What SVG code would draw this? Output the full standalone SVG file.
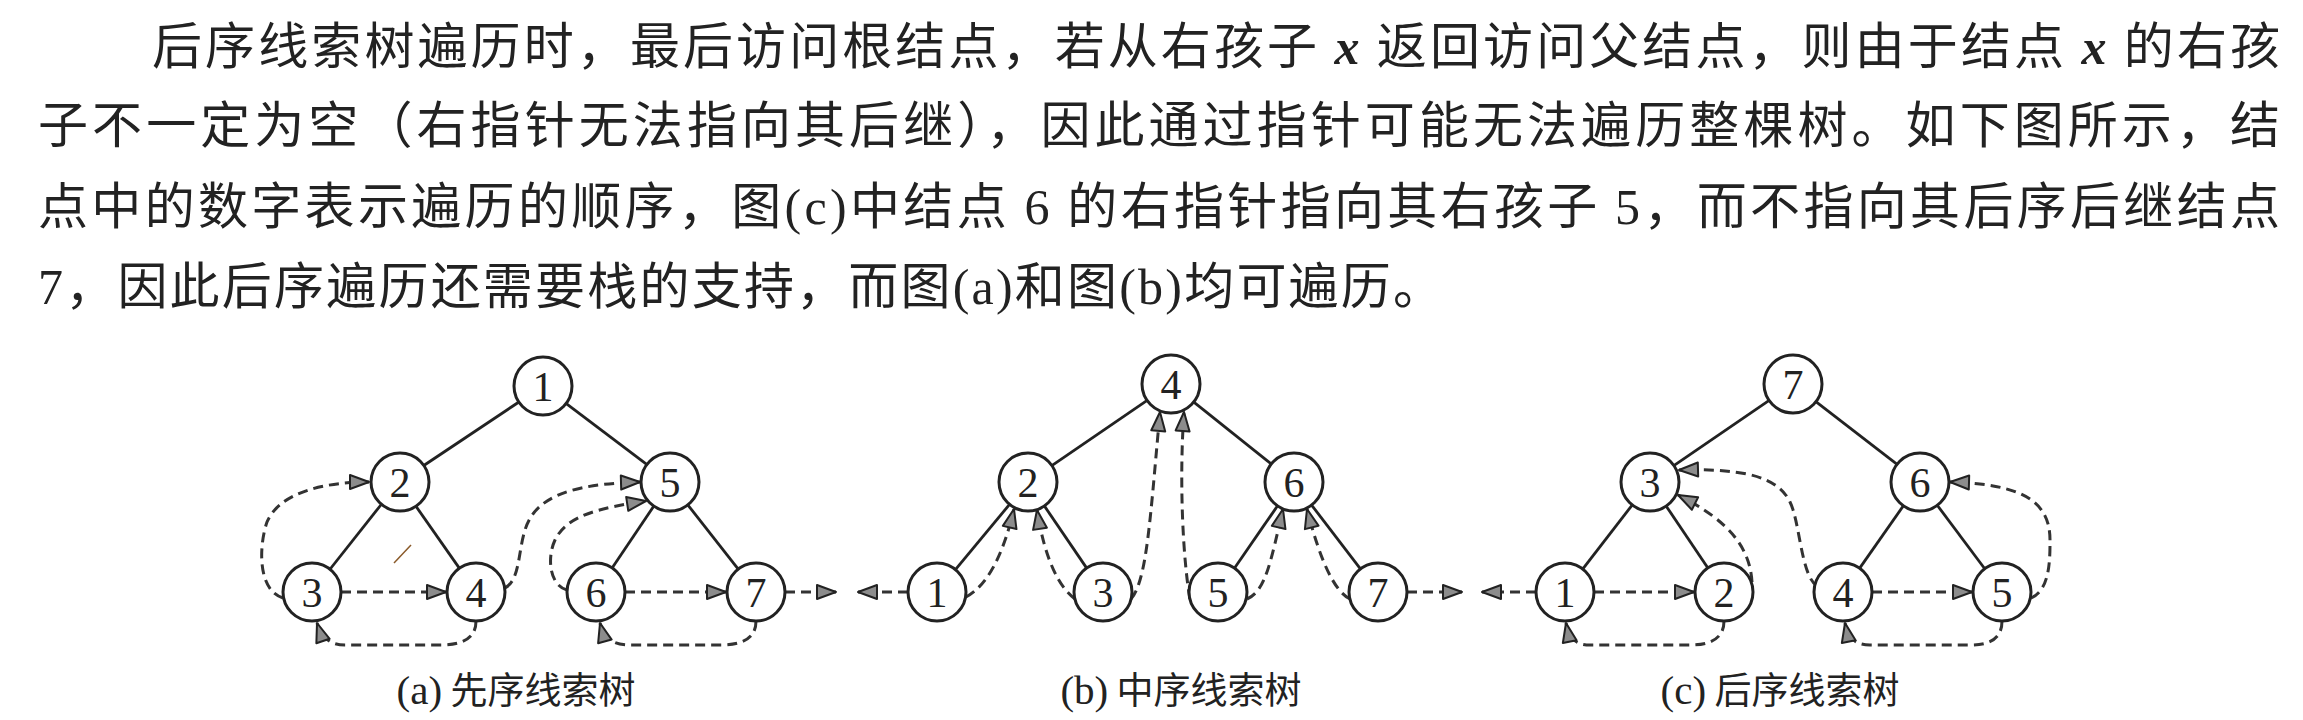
<svg xmlns="http://www.w3.org/2000/svg" width="2303" height="720" viewBox="0 0 2303 720">
<style>
.para{font-family:"Noto Sans CJK SC","Liberation Sans",sans-serif;font-size:50px;fill:#222}
.ser{font-family:"Liberation Serif",serif}
.it{font-family:"Liberation Serif",serif;font-style:italic;font-weight:bold}
.cap{font-family:"Noto Sans CJK SC","Liberation Sans",sans-serif;font-size:37px;fill:#222;text-anchor:middle}
.cap .ser{font-size:41px}
.node circle{fill:#fff;stroke:#222;stroke-width:3}
.node text{font-family:"Liberation Serif",serif;font-size:42px;fill:#222;text-anchor:middle}
.edge{stroke:#222;stroke-width:2.8;fill:none}
.thr{stroke:#333;stroke-width:3;fill:none;stroke-dasharray:10 6;marker-end:url(#ah)}
</style>
<defs>
<marker id="ah" markerUnits="userSpaceOnUse" markerWidth="26" markerHeight="20" refX="20" refY="8" orient="auto" overflow="visible">
<path d="M1,1 L20,8 L1,15 z" fill="#8c8c8c" stroke="#222" stroke-width="2" stroke-linejoin="round"/>
</marker>
</defs>
<rect width="2303" height="720" fill="#fff"/>
<g id="paragraph">
<text class="para" x="152" y="64" textLength="2128" lengthAdjust="spacing">后序线索树遍历时，最后访问根结点，若从右孩子 <tspan class="it">x</tspan> 返回访问父结点，则由于结点 <tspan class="it">x</tspan> 的右孩</text>
<text class="para" x="38" y="143" textLength="2242" lengthAdjust="spacing">子不一定为空（右指针无法指向其后继），因此通过指针可能无法遍历整棵树。如下图所示，结</text>
<text class="para" x="38" y="224" textLength="2242" lengthAdjust="spacing">点中的数字表示遍历的顺序，图<tspan class="ser">(c)</tspan>中结点 <tspan class="ser">6</tspan> 的右指针指向其右孩子 <tspan class="ser">5</tspan>，而不指向其后序后继结点</text>
<text class="para" x="38" y="304" textLength="1405" lengthAdjust="spacing"><tspan class="ser">7</tspan>，因此后序遍历还需要栈的支持，而图<tspan class="ser">(a)</tspan>和图<tspan class="ser">(b)</tspan>均可遍历。</text>
</g>
<g id="connectors">
<!-- (a) tree edges -->
<line class="edge" x1="519.7" y1="401.5" x2="422.3" y2="466.5"/>
<line class="edge" x1="565.3" y1="402.9" x2="647.7" y2="465.1"/>
<line class="edge" x1="381.6" y1="504" x2="329.4" y2="570"/>
<line class="edge" x1="415" y1="504.9" x2="460" y2="569.1"/>
<line class="edge" x1="654.4" y1="505.2" x2="611.6" y2="568.8"/>
<line class="edge" x1="687.2" y1="504.1" x2="738.8" y2="569.9"/>
<!-- (a) threads -->
<path class="thr" d="M283,598 C257,590 259,545 267,522 C279,494 320,482 369,482"/>
<path class="thr" d="M341,592 L446,592"/>
<path class="thr" d="M476,621 C476,640 460,645 440,645 L345,645 C330,645 322,638 317,623"/>
<path class="thr" d="M505,588 C520,580 518,552 525,530 C535,497 570,484 640,482"/>
<path class="thr" d="M567,590 C549,585 547,557 555,540 C567,515 600,508 646,501"/>
<path class="thr" d="M625,592 L726,592"/>
<path class="thr" d="M756,621 C756,640 740,645 720,645 L630,645 C612,645 604,638 600,623"/>
<path class="thr" d="M785,592 L836,592"/>
<!-- (b) tree edges -->
<line class="edge" x1="1147.9" y1="399.8" x2="1051.1" y2="466.2"/>
<line class="edge" x1="1192.9" y1="401.4" x2="1272.1" y2="464.6"/>
<line class="edge" x1="1010.2" y1="503.6" x2="954.8" y2="570.4"/>
<line class="edge" x1="1043.8" y1="505.1" x2="1087.2" y2="568.9"/>
<line class="edge" x1="1278.1" y1="505" x2="1233.9" y2="569"/>
<line class="edge" x1="1311" y1="504.3" x2="1361" y2="569.7"/>
<!-- (b) threads -->
<path class="thr" d="M908,592 L858,592"/>
<path class="thr" d="M966,597 C985,587 1002,560 1014,509"/>
<path class="thr" d="M1075,599 C1059,587 1045,560 1037,510"/>
<path class="thr" d="M1131,599 C1147,580 1150,520 1160,412"/>
<path class="thr" d="M1190,599 C1183,560 1179,480 1184,412"/>
<path class="thr" d="M1247,599 C1266,591 1271,560 1283,509"/>
<path class="thr" d="M1350,599 C1334,591 1320,560 1307,509"/>
<path class="thr" d="M1407,592 L1462,592"/>
<!-- (c) tree edges -->
<line class="edge" x1="1769.9" y1="399.8" x2="1673.1" y2="466.2"/>
<line class="edge" x1="1815.2" y1="401.1" x2="1897.8" y2="464.9"/>
<line class="edge" x1="1632.9" y1="504.1" x2="1582.1" y2="569.9"/>
<line class="edge" x1="1665.6" y1="505.2" x2="1708.4" y2="568.8"/>
<line class="edge" x1="1904" y1="504.9" x2="1859" y2="569.1"/>
<line class="edge" x1="1936.7" y1="504.5" x2="1985.3" y2="569.5"/>
<!-- (c) threads -->
<path class="thr" d="M1536,592 L1482,592"/>
<path class="thr" d="M1594,592 L1694,592"/>
<path class="thr" d="M1724,621 C1724,640 1708,645 1690,645 L1590,645 C1575,645 1569,638 1566,623"/>
<path class="thr" d="M1752,582 C1750,550 1732,522 1678,495"/>
<path class="thr" d="M1817,586 C1801,576 1800,522 1790,502 C1779,479 1750,468 1679,470"/>
<path class="thr" d="M1872,592 L1972,592"/>
<path class="thr" d="M2002,621 C2002,640 1988,645 1970,645 L1870,645 C1855,645 1848,638 1845,623"/>
<path class="thr" d="M2031,598 C2050,590 2050,560 2050,540 C2050,500 2020,484 1950,482"/>
</g>
<!-- (a) nodes -->
<g id="a1" class="node"><circle cx="543" cy="386" r="29"/><text x="543" y="401">1</text></g>
<g id="a2" class="node"><circle cx="400" cy="482" r="29"/><text x="400" y="497">2</text></g>
<g id="a5" class="node"><circle cx="670" cy="482" r="29"/><text x="670" y="497">5</text></g>
<g id="a3" class="node"><circle cx="312" cy="592" r="29"/><text x="312" y="607">3</text></g>
<g id="a4" class="node"><circle cx="476" cy="592" r="29"/><text x="476" y="607">4</text></g>
<g id="a6" class="node"><circle cx="596" cy="592" r="29"/><text x="596" y="607">6</text></g>
<g id="a7" class="node"><circle cx="756" cy="592" r="29"/><text x="756" y="607">7</text></g>
<!-- (b) nodes -->
<g id="b4" class="node"><circle cx="1171" cy="384" r="29"/><text x="1171" y="399">4</text></g>
<g id="b2" class="node"><circle cx="1028" cy="482" r="29"/><text x="1028" y="497">2</text></g>
<g id="b6" class="node"><circle cx="1294" cy="482" r="29"/><text x="1294" y="497">6</text></g>
<g id="b1" class="node"><circle cx="937" cy="592" r="29"/><text x="937" y="607">1</text></g>
<g id="b3" class="node"><circle cx="1103" cy="592" r="29"/><text x="1103" y="607">3</text></g>
<g id="b5" class="node"><circle cx="1218" cy="592" r="29"/><text x="1218" y="607">5</text></g>
<g id="b7" class="node"><circle cx="1378" cy="592" r="29"/><text x="1378" y="607">7</text></g>
<!-- (c) nodes -->
<g id="c7" class="node"><circle cx="1793" cy="384" r="29"/><text x="1793" y="399">7</text></g>
<g id="c3" class="node"><circle cx="1650" cy="482" r="29"/><text x="1650" y="497">3</text></g>
<g id="c6" class="node"><circle cx="1920" cy="482" r="29"/><text x="1920" y="497">6</text></g>
<g id="c1" class="node"><circle cx="1565" cy="592" r="29"/><text x="1565" y="607">1</text></g>
<g id="c2" class="node"><circle cx="1724" cy="592" r="29"/><text x="1724" y="607">2</text></g>
<g id="c4" class="node"><circle cx="1843" cy="592" r="29"/><text x="1843" y="607">4</text></g>
<g id="c5" class="node"><circle cx="2002" cy="592" r="29"/><text x="2002" y="607">5</text></g>
<g id="captions">
<text class="cap" x="516" y="704"><tspan class="ser">(a)</tspan> 先序线索树</text>
<text class="cap" x="1181" y="704"><tspan class="ser">(b)</tspan> 中序线索树</text>
<text class="cap" x="1780" y="704"><tspan class="ser">(c)</tspan> 后序线索树</text>
</g>
<line x1="394" y1="563" x2="411" y2="545" stroke="#8a5a2a" stroke-width="1.5"/>
</svg>
